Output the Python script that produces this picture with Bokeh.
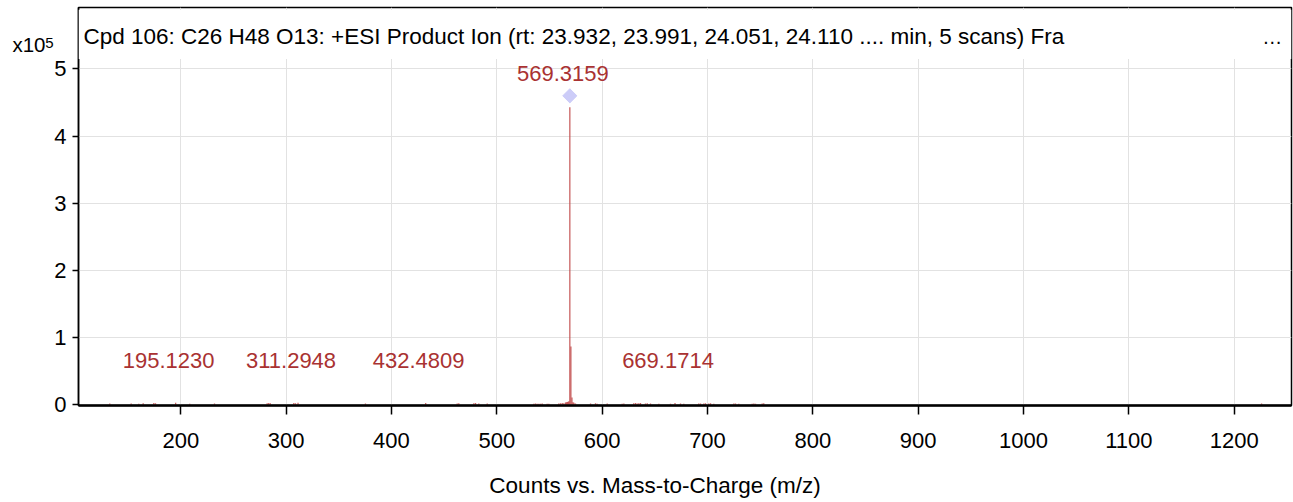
from bokeh.plotting import figure
from bokeh.models import (Range1d, Label, BoxAnnotation, FixedTicker, ColumnDataSource,
                          LinearAxis)
from bokeh.embed import file_html
from bokeh.resources import INLINE
from bokeh.core.properties import value

# ---------------- data ----------------
# spectrum sticks (m/z, counts)
mz = [132.6, 152.9, 160.1, 164.3, 174.4, 176.0, 195.1230, 208.5, 232.0,
      282.0, 283.5, 285.0, 307.3, 308.9, 311.2948, 375.3, 432.4809, 462.4,
      463.9, 478.2, 479.8, 482.9, 490.9,
      535.1, 536.7, 538.3, 539.9, 541.5, 543.1, 547.8, 549.4, 558.8, 560.4,
      562.1, 563.6, 565.2, 566.1, 567.0, 567.8, 568.5, 569.3159, 570.3190,
      571.3220, 572.3, 573.2, 574.7,
      589.0, 593.7, 595.3, 604.8, 619.0, 620.6, 630.0, 631.7, 633.3, 634.8,
      636.4, 641.1, 642.8, 645.9, 653.8, 664.9, 669.1714, 674.4, 677.5,
      691.7, 693.4, 696.5, 698.1, 701.2, 702.9, 706.0, 725.0, 726.6, 729.7,
      742.4, 744.0, 745.6, 751.9, 753.4, 1226.0]
counts = [1800, 2000, 1500, 2200, 2600, 2400, 3200, 1600, 1800,
          2400, 2800, 2200, 2600, 2400, 3000, 1800, 2600, 2000,
          2400, 2200, 2600, 2000, 1800,
          1600, 1800, 1500, 1700, 1600, 1800, 1500, 1700, 2000, 2400,
          2600, 2200, 3600, 3800, 4200, 4400, 5200, 443000, 87000,
          11000, 4000, 3200, 2000,
          1800, 2400, 1600, 1800, 1600, 1800, 2400, 2600, 2000, 2200,
          2800, 2000, 2400, 1800, 1600, 1600, 2600, 1800, 1600,
          1800, 2000, 1800, 2200, 2000, 2400, 1600, 2000, 1800, 1600,
          1600, 1800, 1600, 2000, 2200, 1800]

# annotated peaks
label_mz = [195.1230, 311.2948, 432.4809, 569.3159, 669.1714]
label_y = [66000, 66000, 66000, 493000, 66000]
label_text = ["195.1230", "311.2948", "432.4809", "569.3159", "669.1714"]

# precursor marker
precursor_mz = [569.3159]
precursor_y = [460000]

x_ticks = [200, 300, 400, 500, 600, 700, 800, 900, 1000, 1100, 1200]
y_ticks = [0, 100000, 200000, 300000, 400000, 500000]
y_tick_labels = {0: "0", 100000: "1", 200000: "2", 300000: "3", 400000: "4", 500000: "5"}

title_text = ("Cpd 106: C26 H48 O13: +ESI Product Ion (rt: 23.932, 23.991, 24.051, "
              "24.110 .... min, 5 scans) Fra")
x_label = "Counts vs. Mass-to-Charge (m/z)"
exp_base = "x10"
exp_power = "5"

FONT = "Liberation Sans"
RED = "#a93232"

# ---------------- figure ----------------
p = figure(width=1293, height=502, output_backend="svg", toolbar_location=None,
           x_range=Range1d(102.9, 1254.4), y_range=Range1d(-1000, 591500),
           min_border_left=78, min_border_right=2, min_border_top=7,
           min_border_bottom=97)
p.background_fill_color = "white"
p.border_fill_color = "white"
p.outline_line_color = "black"
p.outline_line_width = 1.5

# axes
p.xaxis.ticker = FixedTicker(ticks=x_ticks)
p.yaxis.ticker = FixedTicker(ticks=y_ticks)
p.yaxis.major_label_overrides = y_tick_labels
for ax in (p.xaxis, p.yaxis):
    ax.axis_line_color = "black"
    ax.major_tick_line_color = "black"
    ax.major_tick_line_width = 1.5
    ax.minor_tick_line_color = None
    ax.major_tick_in = 0
    ax.major_label_text_font = FONT
    ax.major_label_text_font_size = "22px"
    ax.major_label_text_color = "black"
p.xaxis.axis_line_width = 2.5
p.xaxis.major_tick_out = 9
p.xaxis.major_label_standoff = 18
p.yaxis.axis_line_width = 1.5
p.yaxis.major_tick_out = 6
p.yaxis.major_label_standoff = 6

# exponent "x10^5" drawn as labels of two extra (invisible) left axes
exp_pow_axis = LinearAxis(ticker=FixedTicker(ticks=[538500]),
                          major_label_overrides={538500: exp_power})
exp_base_axis = LinearAxis(ticker=FixedTicker(ticks=[536000]),
                           major_label_overrides={536000: exp_base})
for ax, fs, so in ((exp_pow_axis, "15px", -2), (exp_base_axis, "20.5px", -3)):
    ax.axis_line_color = None
    ax.major_tick_line_color = None
    ax.minor_tick_line_color = None
    ax.major_tick_in = 0
    ax.major_tick_out = 0
    ax.major_label_standoff = so
    ax.major_label_text_font = FONT
    ax.major_label_text_font_size = fs
    ax.major_label_text_color = "black"
    p.add_layout(ax, "left")

# x axis title, drawn as the single label of an extra (invisible) lower axis
xlabel_pos = 650.2
xlabel_axis = LinearAxis(ticker=FixedTicker(ticks=[xlabel_pos]),
                         major_label_overrides={xlabel_pos: x_label})
xlabel_axis.axis_line_color = None
xlabel_axis.major_tick_line_color = None
xlabel_axis.minor_tick_line_color = None
xlabel_axis.major_tick_in = 0
xlabel_axis.major_tick_out = 0
xlabel_axis.major_label_standoff = 22
xlabel_axis.major_label_text_font = FONT
xlabel_axis.major_label_text_font_size = "22.5px"
xlabel_axis.major_label_text_color = "black"
p.add_layout(xlabel_axis, "below")

p.xgrid.ticker = FixedTicker(ticks=x_ticks)
p.ygrid.ticker = FixedTicker(ticks=y_ticks[1:])
p.grid.grid_line_color = "#e2e2e2"
p.grid.grid_line_width = 1

# white header band hides grid above plotting area
p.add_layout(BoxAnnotation(bottom=515000, top=588000, fill_color="white",
                           fill_alpha=1.0, line_color=None))

# spectrum sticks
src = ColumnDataSource(dict(mz=mz, counts=counts, zero=[0] * len(mz)))
p.segment(x0="mz", y0="zero", x1="mz", y1="counts", source=src,
          line_color="#c04848", line_width=1.3, line_alpha=0.85)

# precursor diamond
p.scatter(precursor_mz, precursor_y, marker="square", angle=0.785398, size=10,
          fill_color="#ccccf8", line_color="#ccccf8")

# peak labels
p.text(x=label_mz, y=label_y, text=label_text, text_align="center",
       text_baseline="middle", x_offset=-7, text_color=RED,
       text_font=value(FONT), text_font_size="22px")

# header text
p.add_layout(Label(x=107.6, y=547800, text=title_text, text_font=FONT,
                   text_font_size="22.5px", text_color="black",
                   text_baseline="alphabetic"))
p.add_layout(Label(x=1236.1, y=547800, text="\u2026", text_font=FONT,
                   text_font_size="20px", text_color="black",
                   text_align="center", text_baseline="alphabetic"))

open("out.html", "w").write(file_html(p, INLINE))
